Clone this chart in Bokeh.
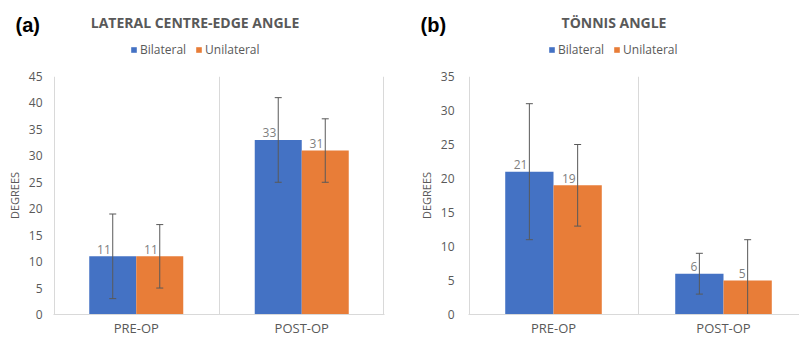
from bokeh.plotting import figure
from bokeh.models import Range1d, FixedTicker, Legend, LegendItem
from bokeh.layouts import row, column
from bokeh.embed import file_html
from bokeh.resources import INLINE
from bokeh.core.properties import value

categories = ["PRE-OP", "POST-OP"]
lce_bilateral = [11, 33]
lce_bilateral_err = [8, 8]
lce_unilateral = [11, 31]
lce_unilateral_err = [6, 6]
tonnis_bilateral = [21, 6]
tonnis_bilateral_err = [10, 3]
tonnis_unilateral = [19, 5]
tonnis_unilateral_err = [6, 6]
lce_ticks = [0, 5, 10, 15, 20, 25, 30, 35, 40, 45]
tonnis_ticks = [0, 5, 10, 15, 20, 25, 30, 35]
series_names = ["Bilateral", "Unilateral"]
panel_tags = ["(a)", "(b)"]
panel_titles = ["LATERAL CENTRE-EDGE ANGLE", "TÖNNIS ANGLE"]

BLUE = "#4472C4"
ORANGE = "#E87D38"
GRAY = "#595959"
FONT = "Open Sans"
BAR_W = 0.284
HEADER_H = 66
W = 799


def make_header(specs):
    # header coordinates are local pixels (x right, y down)
    h = figure(width=W, height=HEADER_H, x_range=Range1d(0, W),
               y_range=Range1d(HEADER_H, 0), output_backend="svg",
               toolbar_location=None, min_border=0)
    h.axis.visible = False
    h.grid.grid_line_color = None
    h.outline_line_color = None
    xs = [i + 1 for i in range(len(categories))]
    for tag, title, tag_x, title_x, legend_x, bil, uni in specs:
        h.text(x=[tag_x], y=[24], text=[tag], text_align="left", text_baseline="middle",
               text_font=value("Liberation Sans"), text_font_size="20px",
               text_font_style="bold", text_color="black")
        h.text(x=[title_x], y=[22], text=[title], text_align="center", text_baseline="middle",
               text_font=value(FONT), text_font_size="14px", text_font_style="bold",
               text_color=GRAY)
        # zero-height bars: they only lend their style to the legend swatches
        rs = [h.vbar(x=xs, top=vals, bottom=vals, width=BAR_W, fill_color=c, line_color=None)
              for vals, c in ((bil, BLUE), (uni, ORANGE))]
        legend = Legend(items=[LegendItem(label=n, renderers=[r]) for n, r in zip(series_names, rs)],
                        location=(legend_x, 8), orientation="horizontal",
                        glyph_width=7, glyph_height=7, label_height=12, label_width=10,
                        label_standoff=3, spacing=9, padding=0, margin=0,
                        label_text_font=FONT, label_text_font_size="12px",
                        label_text_color=GRAY, background_fill_alpha=0,
                        border_line_alpha=0)
        h.add_layout(legend)
    return h


def panel(bil, bil_err, uni, uni_err, yticks, width, left, right, x_end, y_standoff):
    p = figure(width=width, height=339 - HEADER_H, x_range=Range1d(0.5, x_end),
               y_range=Range1d(yticks[0], yticks[-1]),
               output_backend="svg", toolbar_location=None,
               min_border_left=left, min_border_right=right,
               min_border_top=10, min_border_bottom=23)
    p.outline_line_color = None
    p.background_fill_color = "white"
    xs = [i + 1 for i in range(len(categories))]
    for vals, errs, col, sgn in ((bil, bil_err, BLUE, -1), (uni, uni_err, ORANGE, 1)):
        xb = [x + sgn * BAR_W / 2 for x in xs]
        p.vbar(x=xb, top=vals, width=BAR_W, fill_color=col, line_color=None)
        lo = [v - e for v, e in zip(vals, errs)]
        hi = [v + e for v, e in zip(vals, errs)]
        p.segment(x0=xb, y0=lo, x1=xb, y1=hi, line_color=GRAY, line_width=1)
        p.scatter(x=xb + xb, y=lo + hi, marker="dash", size=7,
                  line_color=GRAY, line_width=1)
        p.text(x=xb, y=vals, text=[str(v) for v in vals], text_align="right",
               text_baseline="alphabetic", x_offset=-2, y_offset=-7,
               text_font=value(FONT), text_font_size="12px", text_color="#7f7f7f")

    for ax in (p.xaxis[0], p.yaxis[0]):
        ax.major_tick_line_color = None
        ax.minor_tick_line_color = None
        ax.major_tick_out = 0
        ax.major_tick_in = 0
        ax.minor_tick_out = 0
        ax.minor_tick_in = 0
        ax.major_label_text_font = FONT
        ax.major_label_text_font_size = "12px"
        ax.major_label_text_color = GRAY

    p.xaxis.ticker = FixedTicker(ticks=xs)
    p.xaxis.major_label_overrides = {x: c for x, c in zip(xs, categories)}
    p.xaxis.axis_line_color = "#d9d9d9"
    p.xaxis.major_label_standoff = 4
    p.xaxis.major_label_text_font_size = "13px"

    p.yaxis.ticker = FixedTicker(ticks=yticks)
    p.yaxis.axis_line_color = None
    p.yaxis.major_label_standoff = y_standoff
    p.yaxis.axis_label = "DEGREES"
    p.yaxis.axis_label_text_font = FONT
    p.yaxis.axis_label_text_font_size = "11px"
    p.yaxis.axis_label_text_font_style = "normal"
    p.yaxis.axis_label_text_color = GRAY
    p.yaxis.axis_label_standoff = 4

    p.ygrid.grid_line_color = None
    bounds = [x - 0.5 for x in xs] + [xs[-1] + 0.5]
    bounds[0] += 0.004
    bounds[-1] -= 0.004
    p.xgrid.ticker = FixedTicker(ticks=bounds)
    p.xgrid.grid_line_color = "#d9d9d9"
    return p


header = make_header([
    (panel_tags[0], panel_titles[0], 15, 194.5, 130, lce_bilateral, lce_unilateral),
    (panel_tags[1], panel_titles[1], 420, 613.5, 548, tonnis_bilateral, tonnis_unilateral),
])
pa = panel(lce_bilateral, lce_bilateral_err, lce_unilateral, lce_unilateral_err,
           lce_ticks, 400, 53, 16, 2.5, 11)
pb = panel(tonnis_bilateral, tonnis_bilateral_err, tonnis_unilateral, tonnis_unilateral_err,
           tonnis_ticks, 399, 68, 0, 2.447, 14)

layout = column(header, row(pa, pb))
open("out.html", "w").write(file_html(layout, INLINE))
